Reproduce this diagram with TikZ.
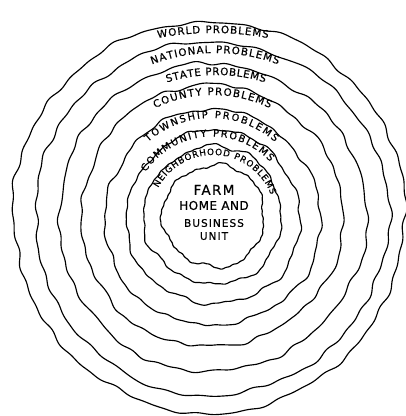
\documentclass[tikz,border=0pt]{standalone}
\usepackage{fontspec}
\setsansfont{DejaVu Sans}[FakeBold=0.6]
\newfontfamily\letterfont{DejaVu Sans}[LetterSpace=10, FakeBold=0.6]
\usetikzlibrary{decorations.text}

\newcommand\ringfont{\sffamily\fontsize{10.3}{12}\selectfont}
\newcommand\ringsmall{\sffamily\fontsize{9.8}{11}\selectfont}
\newcommand\ringtiny{\sffamily\fontsize{8.8}{10}\selectfont}

\tikzset{
  ring/.style={draw=black, line width=1.15pt, line join=round},
  ringlabel/.style={decorate, decoration={text along path, text align=fit to path, text={#1}}},
  farmtext/.style={align=center, inner sep=0pt, font=\letterfont\fontsize{12}{15}\selectfont}
}

\begin{document}
\begin{tikzpicture}[x=1pt, y=1pt]
  \useasboundingbox (0,0) rectangle (406,416);

  % Lumpy hand-drawn rings, outermost (world) to innermost (farm)
  \foreach \R/\cx/\cy/\ka/\kb/\p in {196/209/199.5/28/43/0, 177/211.5/198/25/39/40,
      154/212/198.5/22/34/80, 131/211.5/200/19/29/120, 108/212.5/198/15/24/160,
      87/213.5/198.5/12/19/200, 69/213/200.5/10/15/240, 51/214/200/7/11/280}
    \draw[ring, shift={(\cx,\cy)}] plot[domain=0:360, samples=721]
      (\x:{\R+1.3*sin(3*\x+\p)+0.9*sin(7*\x+2*\p)+0.7*sin(13*\x+3*\p)
           +0.8*sin(\ka*\x+\p)+0.6*sin(\kb*\x+\p)+0.3*sin(41*\x+2*\p)}) -- cycle;

  % Ring labels
  \path[ringlabel={|\ringfont|WORLD PROBLEMS}]
    (213,83) ++(100.6:300pt) arc[start angle=100.6, end angle=79.4, radius=300pt];
  \path[ringlabel={|\ringfont|NATIONAL PROBLEMS}]
    (215,183) ++(110.5:180pt) arc[start angle=110.5, end angle=69.5, radius=180pt];
  \path[ringlabel={|\ringfont|STATE PROBLEMS}]
    (216,176) ++(107.3:165pt) arc[start angle=107.3, end angle=72.7, radius=165pt];
  \path[ringlabel={|\ringfont|COUNTY PROBLEMS}]
    (212.5,190) ++(116:131pt) arc[start angle=116, end angle=64, radius=131pt];
  \path[ringlabel={|\ringsmall|TOWNSHIP PROBLEMS}]
    (211.5,202) ++(131.4:96pt) arc[start angle=131.4, end angle=48.6, radius=96pt];
  \path[ringlabel={|\ringsmall|COMMUNITY PROBLEMS}]
    (212,200) ++(146.5:79.5pt) arc[start angle=146.5, end angle=43, radius=79.5pt];
  \path[ringlabel={|\ringtiny|NEIGHBORHOOD PROBLEMS}]
    (213,199) ++(152:62pt) arc[start angle=152, end angle=21, radius=62pt];

  % Centre
  \node[farmtext] (farm) at (214,203.5)
    {{\fontsize{13.5}{15}\selectfont FARM}\\{\addfontfeature{LetterSpace=4}HOME AND}\\[2pt]%
     {\fontsize{10.5}{15}\selectfont BUSINESS}\\[-2pt]{\fontsize{10.5}{15}\selectfont UNIT}};
\end{tikzpicture}
\end{document}
